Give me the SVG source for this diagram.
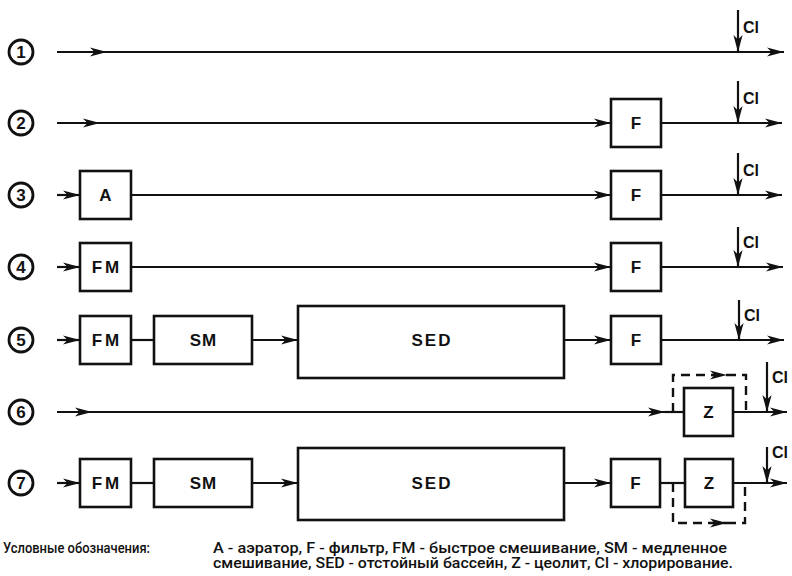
<svg xmlns="http://www.w3.org/2000/svg" width="792" height="576" viewBox="0 0 792 576">
<defs>
<style>
.ln{fill:none;stroke:#111;stroke-width:2.2}
.dash{fill:none;stroke:#111;stroke-width:2.4;stroke-dasharray:9,6}
.box{fill:#fff;stroke:#111;stroke-width:2.6}
.lbl{font-family:"Liberation Sans",Arial,sans-serif;font-weight:bold;font-size:17px;fill:#111;text-anchor:middle}
.cl{font-family:"Liberation Sans",Arial,sans-serif;font-weight:bold;font-size:16px;fill:#111}
.num{fill:#fff;stroke:#111;stroke-width:2.8}
.numt{font-family:"Liberation Sans",Arial,sans-serif;font-weight:bold;font-size:17px;fill:#111;text-anchor:middle}
.leg{font-family:Roboto,"Liberation Sans",Arial,sans-serif;font-weight:500;font-size:14px;fill:#111}
</style>
<marker id="ah" markerUnits="userSpaceOnUse" markerWidth="20" markerHeight="12" refX="17" refY="6" orient="auto" overflow="visible">
<path d="M0,1.4 L17,6 L0,10.6 L4.5,6 z" fill="#111"/>
</marker>
</defs>

<g id="labels">
<g id="n1"><circle class="num" cx="21" cy="52" r="12"/><text class="numt" x="21" y="58">1</text></g>
<g id="n2"><circle class="num" cx="21" cy="123" r="12"/><text class="numt" x="21" y="129">2</text></g>
<g id="n3"><circle class="num" cx="21" cy="195" r="12"/><text class="numt" x="21" y="201">3</text></g>
<g id="n4"><circle class="num" cx="21" cy="267" r="12"/><text class="numt" x="21" y="273">4</text></g>
<g id="n5"><circle class="num" cx="21" cy="340" r="12"/><text class="numt" x="21" y="346">5</text></g>
<g id="n6"><circle class="num" cx="21" cy="412" r="12"/><text class="numt" x="21" y="418">6</text></g>
<g id="n7"><circle class="num" cx="21" cy="483" r="12"/><text class="numt" x="21" y="489">7</text></g>
</g>

<g id="connectors">
<!-- row 1 -->
<path class="ln" d="M57,52 H107" marker-end="url(#ah)"/>
<path class="ln" d="M107,52 H784" marker-end="url(#ah)"/>
<path class="ln" d="M738,10 V52" marker-end="url(#ah)"/>
<!-- row 2 -->
<path class="ln" d="M57,123 H100" marker-end="url(#ah)"/>
<path class="ln" d="M100,123 H611" marker-end="url(#ah)"/>
<path class="ln" d="M661,123 H782" marker-end="url(#ah)"/>
<path class="ln" d="M738,81 V123" marker-end="url(#ah)"/>
<!-- row 3 -->
<path class="ln" d="M57,195 H80" marker-end="url(#ah)"/>
<path class="ln" d="M131,195 H611" marker-end="url(#ah)"/>
<path class="ln" d="M661,195 H782" marker-end="url(#ah)"/>
<path class="ln" d="M738,153 V195" marker-end="url(#ah)"/>
<!-- row 4 -->
<path class="ln" d="M57,267 H80" marker-end="url(#ah)"/>
<path class="ln" d="M131,267 H611" marker-end="url(#ah)"/>
<path class="ln" d="M661,267 H783" marker-end="url(#ah)"/>
<path class="ln" d="M738,227 V267" marker-end="url(#ah)"/>
<!-- row 5 -->
<path class="ln" d="M57,340 H80" marker-end="url(#ah)"/>
<path class="ln" d="M131,340 H154"/>
<path class="ln" d="M252,340 H298" marker-end="url(#ah)"/>
<path class="ln" d="M564,340 H611" marker-end="url(#ah)"/>
<path class="ln" d="M661,340 H784" marker-end="url(#ah)"/>
<path class="ln" d="M739,300 V340" marker-end="url(#ah)"/>
<!-- row 6 -->
<path class="ln" d="M57,412 H92" marker-end="url(#ah)"/>
<path class="ln" d="M92,412 H665" marker-end="url(#ah)"/>
<path class="ln" d="M665,412 H684"/>
<path class="ln" d="M733,412 H787" marker-end="url(#ah)"/>
<path class="dash" d="M673,412 V375 H727" marker-end="url(#ah)"/>
<path class="dash" d="M727,375 H746 V412"/>
<path class="ln" d="M767,362 V412" marker-end="url(#ah)"/>
<!-- row 7 -->
<path class="ln" d="M57,483 H80" marker-end="url(#ah)"/>
<path class="ln" d="M131,483 H154"/>
<path class="ln" d="M252,483 H298" marker-end="url(#ah)"/>
<path class="ln" d="M564,483 H611" marker-end="url(#ah)"/>
<path class="ln" d="M660,483 H685"/>
<path class="ln" d="M733,483 H787" marker-end="url(#ah)"/>
<path class="dash" d="M673,483 V523 H727" marker-end="url(#ah)"/>
<path class="dash" d="M727,523 H745 V483"/>
<path class="ln" d="M767,447 V483" marker-end="url(#ah)"/>
</g>

<g id="cl-labels">
<text class="cl" x="743" y="33">Cl</text>
<text class="cl" x="743" y="104">Cl</text>
<text class="cl" x="743" y="176">Cl</text>
<text class="cl" x="743" y="248">Cl</text>
<text class="cl" x="744" y="321">Cl</text>
<text class="cl" x="772" y="383">Cl</text>
<text class="cl" x="772" y="458">Cl</text>
</g>

<g id="r2-F"><rect class="box" x="611" y="99" width="50" height="48"/><text class="lbl" x="636" y="129">F</text></g>
<g id="r3-A"><rect class="box" x="80" y="171" width="51" height="48"/><text class="lbl" x="105.5" y="201">A</text></g>
<g id="r3-F"><rect class="box" x="611" y="171" width="50" height="48"/><text class="lbl" x="636" y="201">F</text></g>
<g id="r4-FM"><rect class="box" x="80" y="243" width="51" height="48"/><text class="lbl" x="107" y="273" letter-spacing="3">FM</text></g>
<g id="r4-F"><rect class="box" x="611" y="243" width="50" height="48"/><text class="lbl" x="636" y="273">F</text></g>
<g id="r5-FM"><rect class="box" x="80" y="316" width="51" height="48"/><text class="lbl" x="107" y="346" letter-spacing="3">FM</text></g>
<g id="r5-SM"><rect class="box" x="154" y="316" width="98" height="48"/><text class="lbl" x="203.5" y="346" letter-spacing="1">SM</text></g>
<g id="r5-SED"><rect class="box" x="298" y="306" width="266" height="72"/><text class="lbl" x="432" y="346" letter-spacing="2">SED</text></g>
<g id="r5-F"><rect class="box" x="611" y="316" width="50" height="48"/><text class="lbl" x="636" y="346">F</text></g>
<g id="r6-Z"><rect class="box" x="684" y="388" width="49" height="48"/><text class="lbl" x="708.5" y="418">Z</text></g>
<g id="r7-FM"><rect class="box" x="80" y="459" width="51" height="48"/><text class="lbl" x="107" y="489" letter-spacing="3">FM</text></g>
<g id="r7-SM"><rect class="box" x="154" y="459" width="98" height="48"/><text class="lbl" x="203.5" y="489" letter-spacing="1">SM</text></g>
<g id="r7-SED"><rect class="box" x="298" y="448" width="266" height="72"/><text class="lbl" x="432" y="489" letter-spacing="2">SED</text></g>
<g id="r7-F"><rect class="box" x="611" y="459" width="49" height="48"/><text class="lbl" x="635.5" y="489">F</text></g>
<g id="r7-Z"><rect class="box" x="685" y="459" width="48" height="48"/><text class="lbl" x="709" y="489">Z</text></g>

<g id="legend">
<text class="leg" x="3" y="553" textLength="147" lengthAdjust="spacingAndGlyphs">Условные обозначения:</text>
<text class="leg" x="213" y="553" textLength="514" lengthAdjust="spacingAndGlyphs">A - аэратор, F - фильтр, FM - быстрое смешивание, SM - медленное</text>
<text class="leg" x="213" y="568" textLength="520" lengthAdjust="spacingAndGlyphs">смешивание, SED - отстойный бассейн, Z - цеолит, Cl - хлорирование.</text>
</g>
</svg>
